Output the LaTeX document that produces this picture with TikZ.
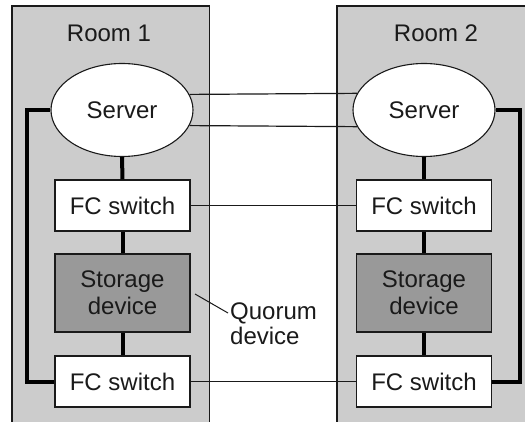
\documentclass[tikz,border=0pt]{standalone}
\usepackage{fontspec}
\setmainfont{Liberation Sans}
\usetikzlibrary{shapes.geometric}
\definecolor{roomgray}{HTML}{CCCCCC}
\definecolor{storegray}{HTML}{999999}
\definecolor{ink}{HTML}{1A1A1A}
\begin{document}
\begin{tikzpicture}[x=1pt,y=-1pt,
  every node/.style={font=\fontsize{24}{25}\selectfont, text=ink},
  room/.style={fill=roomgray, draw=ink, line width=1.2pt},
  server/.style={ellipse, draw=ink, fill=white, line width=1.1pt, minimum width=142pt, minimum height=93pt, inner sep=0pt},
  fcbox/.style={rectangle, draw=ink, fill=white, line width=1.1pt, minimum width=135pt, minimum height=51pt, inner sep=0pt},
  storebox/.style={rectangle, draw=ink, fill=storegray, line width=1.1pt, minimum width=135pt, minimum height=78pt, inner sep=0pt, align=center, font=\fontsize{24}{27}\selectfont},
  thin/.style={draw=ink, line width=1.2pt},
  thick/.style={draw=black, line width=4pt}]
\useasboundingbox (0,0) rectangle (525,422);
\clip (0,0) rectangle (525,422);
\fill[white] (0,0) rectangle (525,422);
% rooms
\draw[room] (12,440) -- (12,6) -- (209.5,6) -- (209.5,440);
\draw[room] (337,440) -- (337,6) -- (540,6) -- (540,440);
\node (r1) at (109,33) {Room 1};
\node (r2) at (436,33) {Room 2};
% nodes
\node[server] (s1) at (122,110) {Server};
\node[server] (s2) at (424,110) {Server};
\node[fcbox] (ft1) at (122.5,205.5) {FC switch};
\node[storebox] (st1) at (122.5,293) {Storage\\device};
\node[fcbox] (fb1) at (122.5,381.5) {FC switch};
\node[fcbox] (ft2) at (424,205.5) {FC switch};
\node[storebox] (st2) at (424,293) {Storage\\device};
\node[fcbox] (fb2) at (424,381.5) {FC switch};
% thick links
\draw[thick] (s1.south) -- (ft1.north);
\draw[thick] (ft1.south) -- (st1.north);
\draw[thick] (st1.south) -- (fb1.north);
\draw[thick] (s2.south) -- (ft2.north);
\draw[thick] (ft2.south) -- (st2.north);
\draw[thick] (st2.south) -- (fb2.north);
\draw[thick, line join=miter] (s1.west) -- ++(-23,0) |- (fb1.west);
\draw[thick, line join=miter] (s2.east) -- ++(24,0) |- (fb2.east);
% thin links between rooms
\draw[thin] (s1.13.5) -- (s2.166.5);
\draw[thin] (s1.-13.5) -- (s2.-166.5);
\draw[thin] (ft1.east) -- (ft2.west);
\draw[thin] (fb1.east) -- (fb2.west);
% quorum label
\node[anchor=north west, align=left, inner sep=0pt, font=\fontsize{24}{25}\selectfont] (q) at (230,303) {Quorum\\device};
\coordinate (qa) at (195,294);
\coordinate (qb) at (228,313);
\draw[thin, line width=1pt] (qa) -- (qb);
\end{tikzpicture}
\end{document}
